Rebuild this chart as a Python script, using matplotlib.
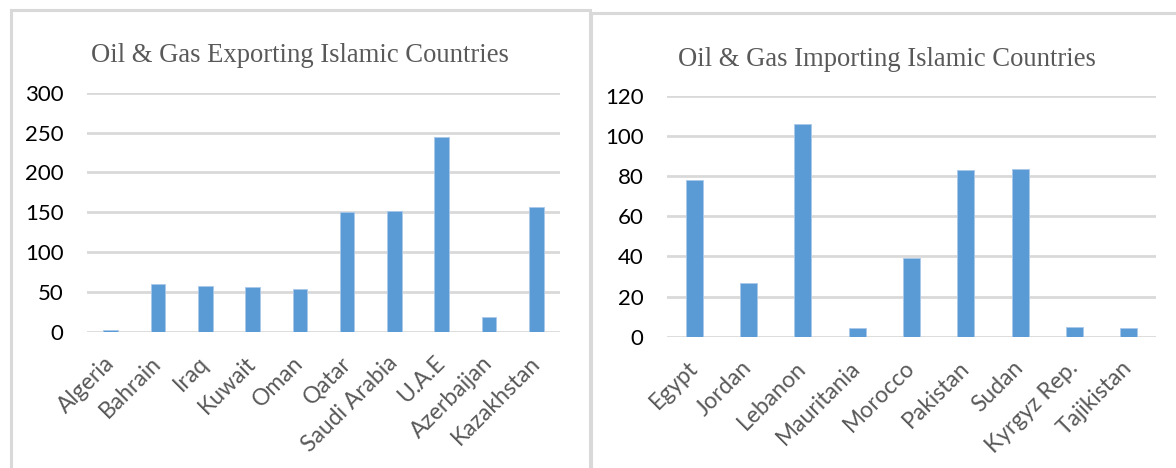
import matplotlib
matplotlib.use('Agg')
import matplotlib.pyplot as plt
from matplotlib.patches import Rectangle

exporters = ['Algeria', 'Bahrain', 'Iraq', 'Kuwait', 'Oman', 'Qatar',
             'Saudi Arabia', 'U.A.E', 'Azerbaijan', 'Kazakhstan']
export_values = [3, 60, 58, 56, 54, 150, 152, 245, 19, 157]
export_ticks = [0, 50, 100, 150, 200, 250, 300]

importers = ['Egypt', 'Jordan', 'Lebanon', 'Mauritania', 'Morocco',
             'Pakistan', 'Sudan', 'Kyrgyz Rep.', 'Tajikistan']
import_values = [78, 27, 106, 4.5, 39, 83, 83.5, 5, 4.5]
import_ticks = [0, 20, 40, 60, 80, 100, 120]

W, H = 1176, 468
BAR = '#5b9bd5'
GRID = '#d9d9d9'
TICK_FONT = 'Lato'


def px_rect(left, top, right, bottom):
    # pixel box -> figure fraction [l, b, w, h]
    return [left / W, 1 - bottom / H, (right - left) / W, (bottom - top) / H]


def draw_panel(fig, box, names, values, ticks, title, title_x, title_y):
    ax = fig.add_axes(px_rect(*box))
    x = range(len(names))
    ax.bar(x, values, width=0.31, color=BAR, edgecolor='#a9c8eb',
           linewidth=0.6, zorder=3)
    ax.set_xlim(-0.5, len(names) - 0.5)
    ax.set_ylim(ticks[0], ticks[-1])
    ax.set_yticks(ticks)
    ax.set_xticks(list(x))
    ax.set_xticklabels(names, rotation=45, ha='right', va='center',
                       rotation_mode='anchor', color='#595959',
                       fontsize=16.5, family=TICK_FONT)
    for lab in ax.get_yticklabels():
        lab.set_family(TICK_FONT)
        lab.set_fontsize(16)
        lab.set_color('#000000')
    ax.tick_params(axis='both', length=0)
    ax.tick_params(axis='y', pad=17)
    ax.tick_params(axis='x', pad=20)
    ax.grid(axis='y', color=GRID, linewidth=2, zorder=0)
    for s in ax.spines.values():
        s.set_visible(False)
    ax.set_facecolor('none')
    fig.text(title_x / W, 1 - title_y / H, title, ha='center',
             va='baseline', family='Liberation Serif', fontsize=19.2,
             color='#595959')
    return ax


def main():
    fig = plt.figure(figsize=(W / 100, H / 100), dpi=100)

    # light grey frames round the two chart areas
    fig.add_artist(Rectangle((11 / W, -0.1), (590 - 11) / W, 1.1 - 10 / H,
                             transform=fig.transFigure, fill=False,
                             edgecolor=GRID, linewidth=2.2, clip_on=False))
    fig.add_artist(Rectangle((591 / W, -0.1), 0.6, 1.1 - 13 / H,
                             transform=fig.transFigure, fill=False,
                             edgecolor=GRID, linewidth=2.2, clip_on=False))

    draw_panel(fig, (87, 92.7, 560, 332), exporters, export_values,
               export_ticks, 'Oil & Gas Exporting Islamic Countries', 300, 62)
    draw_panel(fig, (667, 96, 1156, 336.7), importers, import_values,
               import_ticks, 'Oil & Gas Importing Islamic Countries', 887, 66)

    fig.savefig('out.png', dpi=100)


if __name__ == "__main__":
    main()
